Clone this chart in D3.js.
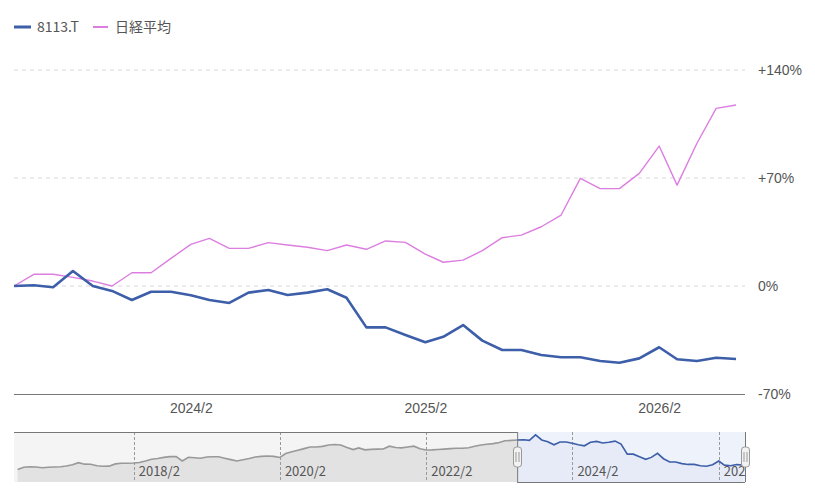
<!DOCTYPE html>
<html><head><meta charset="utf-8">
<script src="https://cdn.jsdelivr.net/npm/d3@7"></script>
<style>
html,body{margin:0;padding:0;background:#fff;}
svg{display:block;font-family:"Noto Sans CJK JP","Noto Sans",sans-serif;}
</style></head>
<body><svg id="c" width="815" height="493"></svg>
<script>
// ---- data ----
const seriesNames = ["8113.T", "日経平均"];
const startYear = 2023, startMonth = 5; // first monthly point 2023/5
const stockPct = [0, 0.5, -0.8, 9.7, 0, -3.2, -9.1, -3.7, -3.7, -6.0, -9.1, -11.0, -4.3, -2.6, -5.8, -4.3, -2.1, -7.6,
  -26.8, -26.8, -31.8, -36.5, -32.9, -25.3, -35.4, -41.5, -41.5, -44.7, -46.2, -46.2, -48.6, -49.7, -46.9, -39.7,
  -47.5, -48.6, -46.5, -47.3];
const nikkeiPct = [0, 7.6, 7.6, 5.6, 3.2, 0, 8.6, 8.6, 17.9, 27.0, 30.9, 24.4, 24.4, 28.1, 26.6, 25.1, 22.9, 26.6,
  23.8, 29.2, 28.3, 20.7, 15.4, 16.8, 22.9, 31.3, 33.0, 38.4, 46.0, 69.8, 63.1, 63.1, 73.0, 90.7, 65.4, 92.5,
  115.1, 117.3];
// navigator history of 8113.T (relative to 2023/5), monthly from 2016/7 to 2023/4
const navStartYear = 2016, navStartMonth = 7;
const navHistory = [-55.8, -51.4, -50.5, -51.0, -52.4, -51.4, -51.0, -50.5, -49.1, -46.9, -42.9, -45.7, -45.9, -48.8,
  -49.7, -49.5, -45.2, -44.0, -44.0, -43.5, -42.5, -39.7, -36.3, -35.0, -32.9, -31.4, -31.2, -39.7, -32.7, -33.6,
  -34.6, -32.1, -31.8, -31.6, -34.4, -37.1, -39.7, -37.2, -35.0, -32.1, -31.0, -30.2, -31.0, -33.1, -25.5, -22.1,
  -19.3, -16.3, -13.2, -13.2, -12.1, -9.5, -8.5, -9.5, -14.2, -18.1, -14.9, -18.7, -17.8, -17.2, -17.0, -11.7,
  -14.2, -14.9, -13.2, -11.7, -16.4, -18.9, -18.7, -18.0, -17.2, -16.4, -15.7, -15.7, -14.7, -11.7, -9.6, -8.1,
  -6.8, -4.7, -1.5];
const yTicks = [-70, 0, 70, 140];
const yTickLabels = ["-70%", "0%", "+70%", "+140%"];
const xTickLabels = ["2024/2", "2025/2", "2026/2"];
const navTickLabels = ["2018/2", "2020/2", "2022/2", "2024/2", "2026/2"];

const colors = ["#3d5ea8", "#dc7ee0"];

// ---- helpers ----
const monthDate = (y, m, i) => new Date(y, m - 1 + i, 1);
const parseYM = s => { const [y, m] = s.split("/").map(Number); return new Date(y, m - 1, 1); };
const mainData = stockPct.map((v, i) => ({ d: monthDate(startYear, startMonth, i), s: v, n: nikkeiPct[i] }));
const navData = navHistory.map((v, i) => ({ d: monthDate(navStartYear, navStartMonth, i), v }))
  .concat(stockPct.map((v, i) => ({ d: monthDate(startYear, startMonth, i), v })));

const svg = d3.select("#c");
const L = 14, R = 745, T = 70, B = 394;
const x = d3.scaleTime().domain([new Date(2023, 4, 1), new Date(2026, 5, 15)]).range([L, R]);
const y = d3.scaleLinear().domain([-70, 140]).range([B, T]);

// grid
svg.append("g").selectAll("line").data(yTicks.filter(t => t !== -70)).join("line")
  .attr("x1", L).attr("x2", R).attr("y1", d => y(d)).attr("y2", d => y(d))
  .attr("stroke", "#d8d8d8").attr("stroke-dasharray", "4,4").attr("stroke-width", 1);

// y labels (right)
const yAxis = d3.axisRight(y).tickValues(yTicks).tickSize(0).tickPadding(0)
  .tickFormat((d, i) => yTickLabels[i]);
const gy = svg.append("g").attr("transform", `translate(758,0)`).call(yAxis);
gy.select(".domain").remove();
gy.selectAll("text").attr("fill", "#555").attr("font-size", 14).attr("x", 0).attr("font-family", "inherit");

// x axis
const xAxis = d3.axisBottom(x).tickValues(xTickLabels.map(parseYM)).tickSize(0).tickPadding(9)
  .tickFormat((d, i) => xTickLabels[i]);
const gx = svg.append("g").attr("transform", `translate(0,${B})`).call(xAxis);
gx.select(".domain").attr("stroke", "#777").attr("d", `M${L},0.5H${R}`);
gx.selectAll("text").attr("fill", "#555").attr("font-size", 14).attr("font-family", "inherit");

// lines
const lineN = d3.line().x(d => x(d.d)).y(d => y(d.n));
const lineS = d3.line().x(d => x(d.d)).y(d => y(d.s));
svg.append("path").datum(mainData).attr("d", lineN).attr("fill", "none")
  .attr("stroke", colors[1]).attr("stroke-width", 1.4).attr("stroke-linejoin", "round");
svg.append("path").datum(mainData).attr("d", lineS).attr("fill", "none")
  .attr("stroke", colors[0]).attr("stroke-width", 2.6).attr("stroke-linejoin", "round");

// legend
const leg = svg.append("g");
leg.append("line").attr("x1", 14).attr("x2", 31).attr("y1", 27).attr("y2", 27).attr("stroke", colors[0]).attr("stroke-width", 3);
leg.append("text").attr("x", 37).attr("y", 32).attr("font-size", 14).attr("fill", "#555").text(seriesNames[0]);
leg.append("line").attr("x1", 93).attr("x2", 108).attr("y1", 27).attr("y2", 27).attr("stroke", colors[1]).attr("stroke-width", 2);
leg.append("text").attr("x", 115).attr("y", 32).attr("font-size", 14).attr("fill", "#555").text(seriesNames[1]);

// ---- navigator ----
const NT = 432, NB = 482;
const nx = d3.scaleTime().domain([new Date(2016, 5, 13), new Date(2026, 5, 12)]).range([L, R]);
const ny = d3.scaleLinear().domain([-80, 10]).range([NB + 0.3, 434.7]);
const selX0 = nx(new Date(2023, 4, 1)), selX1 = R;

const nav = svg.append("g");
nav.append("rect").attr("x", L).attr("y", NT).attr("width", selX0 - L).attr("height", NB - NT).attr("fill", "#f4f4f4");
nav.append("rect").attr("x", selX0).attr("y", NT).attr("width", selX1 - selX0).attr("height", NB - NT).attr("fill", "#eef2fb");

const area = d3.area().x(d => nx(d.d)).y0(NB).y1(d => ny(d.v));
const nline = d3.line().x(d => nx(d.d)).y(d => ny(d.v));
svg.append("clipPath").attr("id", "cl").append("rect").attr("x", L).attr("y", NT).attr("width", selX0 - L).attr("height", NB - NT);
svg.append("clipPath").attr("id", "cr").append("rect").attr("x", selX0).attr("y", NT).attr("width", selX1 - selX0).attr("height", NB - NT);
nav.append("path").datum(navData).attr("d", area).attr("fill", "#e2e2e2").attr("clip-path", "url(#cl)");
nav.append("path").datum(navData).attr("d", area).attr("fill", "#e6ebf7").attr("clip-path", "url(#cr)");

// nav grid + labels
const navTicks = navTickLabels.map(parseYM);
nav.append("g").selectAll("line").data(navTicks).join("line")
  .attr("x1", d => Math.round(nx(d)) + 0.5).attr("x2", d => Math.round(nx(d)) + 0.5)
  .attr("y1", NT).attr("y2", NB).attr("stroke", "#999").attr("stroke-dasharray", "3,2");
svg.append("clipPath").attr("id", "cn").append("rect").attr("x", L).attr("y", NT).attr("width", R - L).attr("height", NB - NT + 10);
nav.append("g").attr("clip-path", "url(#cn)").selectAll("text").data(navTicks).join("text")
  .attr("x", d => nx(d) + 5).attr("y", 476).attr("font-size", 13).attr("fill", "#555").text((d, i) => navTickLabels[i]);

nav.append("path").datum(navData).attr("d", nline).attr("fill", "none").attr("stroke", "#999").attr("stroke-width", 1.6).attr("clip-path", "url(#cl)");
nav.append("path").datum(navData).attr("d", nline).attr("fill", "none").attr("stroke", colors[0]).attr("stroke-width", 1.6).attr("clip-path", "url(#cr)");

// outlines
nav.append("line").attr("x1", L).attr("x2", selX0).attr("y1", NT + 0.5).attr("y2", NT + 0.5).attr("stroke", "#777");
nav.append("line").attr("x1", selX0).attr("x2", selX1).attr("y1", NB + 0.5).attr("y2", NB + 0.5).attr("stroke", "#777");
nav.append("line").attr("x1", selX0 + 0.5).attr("x2", selX0 + 0.5).attr("y1", NT).attr("y2", NB).attr("stroke", "#777");
nav.append("line").attr("x1", selX1 + 0.5).attr("x2", selX1 + 0.5).attr("y1", NT).attr("y2", NB).attr("stroke", "#777");

// handles
[selX0, selX1].forEach(hx => {
  const g = nav.append("g").attr("transform", `translate(${Math.round(hx) + 0.5},457)`);
  g.append("rect").attr("x", -4).attr("y", -10).attr("width", 8).attr("height", 20).attr("rx", 3)
    .attr("fill", "#f2f2f2").attr("stroke", "#999");
  g.append("line").attr("x1", -1.5).attr("x2", -1.5).attr("y1", -5).attr("y2", 5).attr("stroke", "#999");
  g.append("line").attr("x1", 1.5).attr("x2", 1.5).attr("y1", -5).attr("y2", 5).attr("stroke", "#999");
});
</script></body></html>
